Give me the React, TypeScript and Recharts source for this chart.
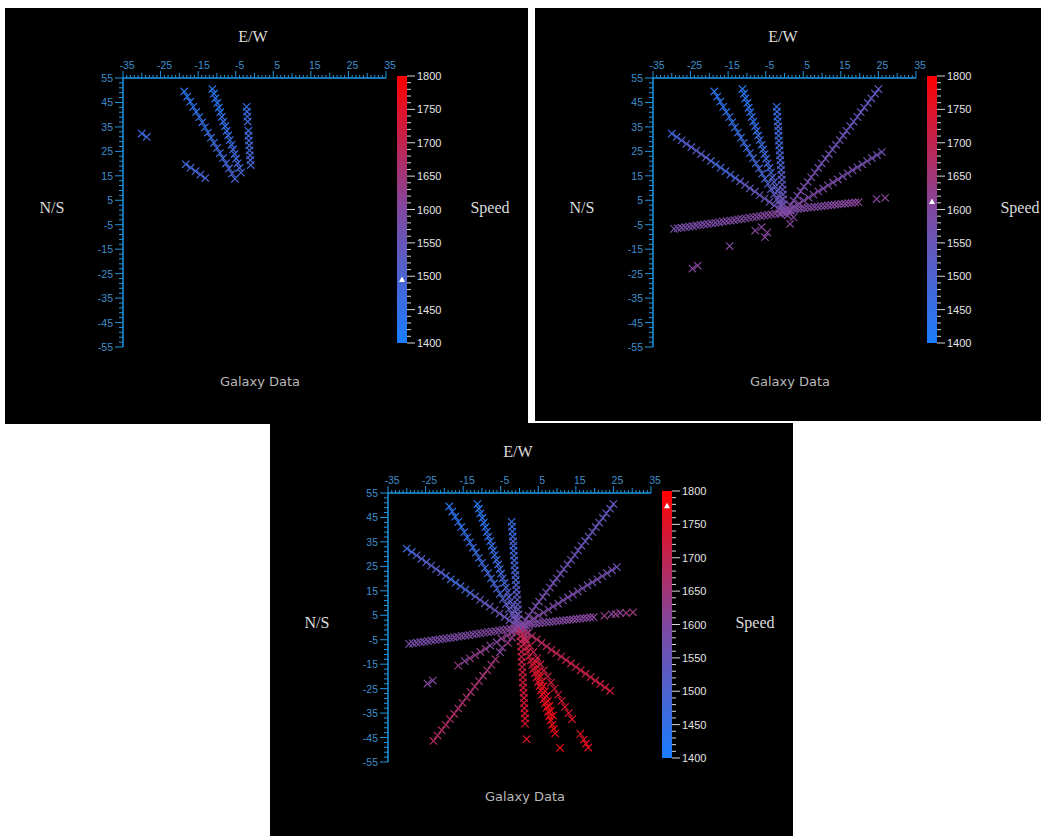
import React from 'react';
import { ScatterChart, Scatter, XAxis, YAxis, BarChart, Bar, ReferenceDot } from 'recharts';

type Galaxy = [number, number, number]; // E/W offset, N/S offset, speed

const ewLabels = [-35, -25, -15, -5, 5, 15, 25, 35];
const nsLabels = [55, 45, 35, 25, 15, 5, -5, -15, -25, -35, -45, -55];
const speedLabels = [1400, 1450, 1500, 1550, 1600, 1650, 1700, 1750, 1800];

// slider setting on the speed bar for each of the three views
const speedLimits = [1495, 1612, 1778];

const streamNW1: Galaxy[] = [
  [-18.7, 49.5, 1428], [-17.9, 47.4, 1431], [-17.1, 45.3, 1436], [-16.3, 43.2, 1440], [-15.5, 41.1, 1443],
  [-14.7, 39.0, 1447], [-13.9, 36.9, 1452], [-13.2, 34.8, 1455], [-12.4, 32.7, 1459], [-11.6, 30.6, 1463],
  [-10.8, 28.5, 1466], [-10.0, 26.4, 1470], [-9.2, 24.3, 1474], [-8.4, 22.2, 1477], [-7.6, 20.1, 1481],
  [-6.8, 18.0, 1485], [-6.0, 15.9, 1488], [-5.2, 13.8, 1492], [-4.4, 11.7, 1512], [-3.6, 9.6, 1522],
  [-2.8, 7.5, 1533], [-2.0, 5.4, 1545], [-1.2, 3.3, 1556], [-0.5, 1.4, 1568],
];

const streamNW2: Galaxy[] = [
  [-11.2, 50.5, 1420], [-10.8, 48.6, 1423], [-10.4, 46.7, 1427], [-9.9, 44.8, 1430], [-9.5, 42.9, 1433],
  [-9.1, 41.0, 1437], [-8.7, 39.1, 1441], [-8.3, 37.2, 1444], [-7.8, 35.3, 1447], [-7.4, 33.4, 1451],
  [-7.0, 31.5, 1455], [-6.6, 29.6, 1458], [-6.1, 27.7, 1462], [-5.7, 25.8, 1466], [-5.3, 23.9, 1470],
  [-4.9, 22.0, 1474], [-4.5, 20.1, 1478], [-4.0, 18.2, 1483], [-3.6, 16.3, 1489], [-3.2, 14.4, 1503],
  [-2.8, 12.5, 1514], [-2.4, 10.6, 1524], [-1.9, 8.7, 1535], [-1.5, 6.8, 1546], [-1.1, 4.9, 1557],
  [-0.7, 3.0, 1566],
];

const streamN: Galaxy[] = [
  [-2.1, 43.2, 1452], [-2.0, 41.2, 1455], [-1.9, 39.2, 1459], [-1.8, 37.2, 1464],
  [-1.7, 35.2, 1502], [-1.6, 33.4, 1470], [-1.6, 31.4, 1473], [-1.5, 29.4, 1476], [-1.4, 27.4, 1479],
  [-1.3, 25.4, 1482], [-1.2, 23.4, 1485], [-1.1, 21.4, 1488], [-1.0, 19.4, 1492],
  [-0.9, 17.4, 1508], [-0.8, 15.4, 1516], [-0.7, 13.4, 1524], [-0.6, 11.4, 1532],
  [-0.5, 9.4, 1540], [-0.4, 7.4, 1548], [-0.3, 5.4, 1556], [-0.2, 3.4, 1564],
];

const streamWNW: Galaxy[] = [
  [-30.0, 32.3, 1470], [-28.7, 30.9, 1478], [-27.4, 29.5, 1512], [-26.1, 28.1, 1515], [-24.8, 26.7, 1518],
  [-23.5, 25.3, 1521], [-22.2, 23.9, 1524], [-20.9, 22.5, 1527], [-19.6, 21.1, 1502], [-18.3, 19.7, 1480],
  [-17.0, 18.3, 1482], [-15.7, 16.9, 1485], [-14.4, 15.5, 1487], [-13.1, 14.1, 1490], [-11.8, 12.7, 1532],
  [-10.5, 11.3, 1536], [-9.2, 9.9, 1540], [-7.9, 8.5, 1545], [-6.6, 7.1, 1549], [-5.3, 5.7, 1554],
  [-4.0, 4.3, 1559], [-2.7, 2.9, 1564], [-1.4, 1.5, 1570],
];

const streamNE: Galaxy[] = [
  [25.0, 50.5, 1536], [24.1, 48.6, 1538], [23.1, 46.7, 1540], [22.2, 44.8, 1542], [21.2, 42.9, 1544],
  [20.3, 41.0, 1546], [19.4, 39.1, 1548], [18.4, 37.2, 1550], [17.5, 35.3, 1552], [16.5, 33.4, 1554],
  [15.6, 31.5, 1556], [14.7, 29.6, 1558], [13.7, 27.7, 1560], [12.8, 25.8, 1562], [11.8, 23.9, 1564],
  [10.9, 22.0, 1566], [9.9, 20.1, 1568], [9.0, 18.2, 1570], [8.1, 16.3, 1572], [7.1, 14.4, 1574],
  [6.2, 12.5, 1576], [5.2, 10.6, 1578], [4.3, 8.7, 1580], [3.4, 6.8, 1582], [2.4, 4.9, 1584],
  [1.5, 3.0, 1586],
];

const streamENE: Galaxy[] = [
  [25.9, 24.7, 1566], [24.6, 23.5, 1568], [23.3, 22.2, 1570], [22.0, 21.0, 1572], [20.7, 19.7, 1574],
  [19.4, 18.5, 1576], [18.1, 17.3, 1578], [16.8, 16.0, 1580], [15.5, 14.8, 1582], [14.2, 13.5, 1584],
  [12.9, 12.3, 1586], [11.6, 11.1, 1588], [10.3, 9.8, 1590], [9.0, 8.6, 1592], [7.7, 7.3, 1594],
  [6.4, 6.1, 1596], [5.1, 4.9, 1598], [3.8, 3.6, 1600], [2.5, 2.4, 1602], [1.2, 1.1, 1604],
];

const streamE: Galaxy[] = [
  [0.8, 0.4, 1590], [1.7, 0.8, 1591], [2.6, 1.2, 1592], [3.5, 1.5, 1593], [4.4, 1.6, 1594],
  [5.3, 1.8, 1595], [6.2, 2.0, 1596], [7.1, 2.1, 1597], [8.0, 2.3, 1598], [8.9, 2.4, 1599],
  [9.8, 2.6, 1600], [10.7, 2.7, 1601], [11.6, 2.9, 1602], [12.5, 3.0, 1603], [13.4, 3.2, 1604],
  [14.3, 3.3, 1605], [15.2, 3.5, 1606], [16.1, 3.6, 1606], [17.0, 3.8, 1607], [17.9, 3.9, 1608],
  [18.8, 4.1, 1609], [19.7, 4.2, 1610], [22.6, 4.8, 1630], [24.5, 5.5, 1608], [25.6, 5.5, 1635],
  [26.8, 6.0, 1611], [28.4, 5.9, 1640], [30.2, 6.2, 1645],
];

const streamW: Galaxy[] = [
  [-29.4, -6.7, 1580], [-28.4, -6.5, 1581], [-27.4, -6.2, 1582], [-26.4, -6.0, 1583], [-25.4, -5.8, 1584],
  [-24.4, -5.6, 1585], [-23.4, -5.3, 1586], [-22.4, -5.1, 1587], [-21.4, -4.9, 1588], [-20.4, -4.7, 1589],
  [-19.4, -4.4, 1590], [-18.4, -4.2, 1591], [-17.4, -4.0, 1592], [-16.4, -3.7, 1593], [-15.4, -3.5, 1594],
  [-14.4, -3.3, 1595], [-13.4, -3.1, 1596], [-12.4, -2.8, 1597], [-11.4, -2.6, 1598], [-10.4, -2.4, 1599],
  [-9.4, -2.1, 1600], [-8.4, -1.9, 1601], [-7.4, -1.7, 1602], [-6.4, -1.5, 1603], [-5.4, -1.2, 1604],
  [-4.4, -1.0, 1605], [-3.4, -0.8, 1606], [-2.4, -0.5, 1607], [-1.4, -0.3, 1608],
];

const core: Galaxy[] = [
  [0.3, -0.5, 1600], [-0.4, 0.6, 1598], [0.8, -1.2, 1605], [1.2, 0.2, 1602], [-1.0, -0.6, 1600],
  [0.5, 1.0, 1596], [1.5, -4.7, 1609], [2.4, -2.0, 1607], [-0.2, -0.1, 1599],
];

const streamSW: Galaxy[] = [
  [-24.5, -22.9, 1604], [-23.1, -21.7, 1606], [-16.3, -15.6, 1632], [-14.6, -13.7, 1602], [-13.2, -12.6, 1630],
  [-11.8, -11.3, 1628], [-10.4, -10.0, 1626], [-9.0, -8.7, 1624], [-7.8, -7.4, 1603], [-6.1, -6.0, 1605],
  [-4.8, -4.6, 1620], [-3.4, -3.3, 1618], [-2.0, -2.0, 1616], [-0.8, -0.8, 1614],
];

const streamSSW: Galaxy[] = [
  [-22.9, -46.4, 1680], [-21.8, -44.2, 1678], [-20.7, -42.0, 1676], [-19.6, -39.8, 1674], [-18.5, -37.5, 1672],
  [-17.4, -35.3, 1670], [-16.3, -33.1, 1668], [-15.2, -30.8, 1666], [-14.1, -28.6, 1664], [-13.0, -26.4, 1662],
  [-11.9, -24.1, 1660], [-10.8, -21.9, 1658], [-9.7, -19.7, 1655], [-8.6, -17.5, 1652], [-7.5, -15.2, 1649],
  [-6.4, -13.0, 1646], [-5.2, -10.1, 1606], [-4.6, -8.2, 1610], [-3.1, -6.3, 1638], [-2.0, -4.1, 1634],
  [-0.9, -1.8, 1630],
];

const streamSE: Galaxy[] = [
  [24.1, -25.9, 1722], [22.8, -24.5, 1720], [21.5, -23.1, 1718], [20.2, -21.7, 1716], [18.9, -20.3, 1714],
  [17.6, -18.9, 1712], [16.3, -17.5, 1710], [15.0, -16.1, 1707], [13.7, -14.7, 1704], [12.4, -13.3, 1701],
  [11.1, -11.9, 1698], [9.8, -10.5, 1695], [8.5, -9.1, 1691], [7.2, -7.7, 1687], [5.9, -6.3, 1683],
  [4.6, -4.9, 1678], [3.3, -3.5, 1672], [2.0, -2.2, 1665],
];

const streamS: Galaxy[] = [
  [0.2, -1.5, 1680], [0.2, -3.6, 1688], [0.3, -5.7, 1695], [0.4, -7.8, 1701], [0.5, -9.9, 1706],
  [0.5, -12.0, 1710], [0.6, -14.1, 1713], [0.7, -16.2, 1716], [0.8, -18.3, 1719], [0.9, -20.4, 1722],
  [0.9, -22.5, 1725], [1.0, -24.6, 1728], [1.1, -26.7, 1731], [1.2, -28.8, 1734], [1.2, -30.9, 1736],
  [1.3, -33.0, 1738], [1.4, -35.1, 1740], [1.5, -37.2, 1742], [1.5, -39.3, 1744], [1.9, -45.6, 1750],
];

const streamSSE1: Galaxy[] = [
  [0.7, -3.0, 1700], [1.1, -4.8, 1704], [1.4, -6.5, 1708], [1.8, -8.3, 1712], [2.2, -10.0, 1716],
  [2.6, -11.8, 1720], [3.0, -13.5, 1724], [3.4, -15.3, 1728], [3.7, -17.0, 1732], [4.1, -18.8, 1736],
  [4.5, -20.5, 1740], [4.9, -22.3, 1744], [5.3, -24.0, 1748], [5.7, -25.8, 1752], [6.0, -27.5, 1755],
  [6.4, -29.3, 1758], [6.8, -31.0, 1761], [7.2, -32.8, 1764], [7.6, -34.5, 1766], [7.9, -36.3, 1768],
  [8.3, -38.0, 1770], [8.7, -39.8, 1772], [9.1, -41.5, 1774], [9.5, -43.3, 1775], [10.8, -49.2, 1772],
];

const streamSSE2: Galaxy[] = [
  [4.4, -14.0, 1740], [4.8, -16.0, 1744], [5.2, -18.0, 1748], [5.6, -20.0, 1752], [6.0, -22.0, 1755],
  [6.4, -24.0, 1758], [6.8, -26.0, 1761], [7.2, -28.0, 1764], [7.6, -30.0, 1767], [8.0, -32.0, 1769],
  [8.4, -34.0, 1771], [8.9, -36.0, 1773],
];

const streamSSE3: Galaxy[] = [
  [0.9, -2.5, 1690], [1.9, -5.0, 1695], [2.8, -7.5, 1700], [3.7, -10.0, 1704], [4.7, -12.5, 1708],
  [5.6, -15.0, 1712], [6.5, -17.5, 1716], [7.5, -20.0, 1720], [8.4, -22.5, 1724], [9.3, -25.0, 1728],
  [10.3, -27.5, 1732], [11.2, -30.0, 1736], [12.1, -32.5, 1740], [13.1, -35.0, 1744], [14.0, -37.5, 1748],
  [16.2, -43.5, 1752], [17.1, -45.8, 1755], [17.7, -47.5, 1757], [18.3, -49.1, 1760],
];

const galaxies = [
  streamNW1, streamNW2, streamN, streamWNW, streamNE, streamENE, streamE, streamW, core,
  streamSW, streamSSW, streamSE, streamS, streamSSE1, streamSSE2, streamSSE3,
].flat().map(([x, y, speed]) => ({ x, y, speed }));

const speedBarData = [{ name: 'speed', range: [1400, 1800] }];

const AXIS = '#2196e0';
const AXIS_TEXT = '#3f8fcc';
const PANEL_TEXT = '#dcdcdc';

const ewTicks = Array.from({ length: 71 }, (_, i) => -35 + i);
const nsTicks = Array.from({ length: 56 }, (_, i) => -55 + i * 2);
const speedTicks = Array.from({ length: 41 }, (_, i) => 1400 + i * 10);

const colorStops: [number, number[]][] = [
  [1400, [26, 125, 255]],
  [1600, [128, 72, 160]],
  [1800, [255, 0, 0]],
];

function speedColor(s: number) {
  const v = Math.min(1800, Math.max(1400, s));
  const [lo, hi] = v <= 1600 ? [colorStops[0], colorStops[1]] : [colorStops[1], colorStops[2]];
  const t = (v - lo[0]) / (hi[0] - lo[0]);
  const c = lo[1].map((a, i) => Math.round(a + (hi[1][i] - a) * t));
  return `rgb(${c[0]},${c[1]},${c[2]})`;
}

const XMark = (props: any) => {
  const { cx, cy, payload } = props;
  const r = 3.7;
  return (
    <path
      d={`M${cx - r},${cy - r}L${cx + r},${cy + r}M${cx - r},${cy + r}L${cx + r},${cy - r}`}
      stroke={speedColor(payload.speed)}
      strokeWidth={1.2}
      fill="none"
    />
  );
};

const EwTick = (props: any) => {
  const { x, y, payload } = props;
  const v = payload.value;
  const labelled = ewLabels.includes(v);
  const len = labelled ? 7 : v % 5 === 0 ? 5 : 3;
  return (
    <g>
      <line x1={x} y1={y} x2={x} y2={y - len} stroke={AXIS} strokeWidth={1} />
      {labelled && (
        <text x={x + 4} y={y - 13} textAnchor="middle" dominantBaseline="central" fill={AXIS_TEXT}
          fontSize={10.5} fontFamily="Liberation Sans, Arial, sans-serif">{v}</text>
      )}
    </g>
  );
};

const NsTick = (props: any) => {
  const { x, y, payload } = props;
  const v = payload.value;
  const labelled = nsLabels.includes(v);
  return (
    <g>
      <line x1={x} y1={y} x2={x - (labelled ? 8 : 4)} y2={y} stroke={AXIS} strokeWidth={1} />
      {labelled && (
        <text x={x - 10} y={y} textAnchor="end" dominantBaseline="central" fill={AXIS_TEXT}
          fontSize={10.5} fontFamily="Liberation Sans, Arial, sans-serif">{v}</text>
      )}
    </g>
  );
};

const SpeedTick = (props: any) => {
  const { x, y, payload } = props;
  const v = payload.value;
  const labelled = speedLabels.includes(v);
  return (
    <g>
      <line x1={x} y1={y} x2={x + (labelled ? 8 : 4)} y2={y} stroke="#d8d8d8" strokeWidth={1} />
      {labelled && (
        <text x={x + 10} y={y} dominantBaseline="central" fill="#e4e4e4"
          fontSize={11} fontFamily="Liberation Sans, Arial, sans-serif">{v}</text>
      )}
    </g>
  );
};

const SliderMark = (props: any) => {
  const { cx, cy } = props;
  return <polygon points={`${cx},${cy - 3} ${cx - 3},${cy + 2.5} ${cx + 3},${cy + 2.5}`} fill="#ffffff" />;
};

const label = (text: string, left: number, top: number, style: React.CSSProperties) => (
  <div style={{ position: 'absolute', left, top, transform: 'translate(-50%, -50%)', whiteSpace: 'nowrap', ...style }}>
    {text}
  </div>
);

function GalaxyView({ limit }: { limit: number }) {
  const shown = galaxies.filter((g) => g.speed <= limit);
  const serif = { fontFamily: 'Liberation Serif, Times New Roman, serif', fontSize: 16, color: PANEL_TEXT };
  return (
    <div style={{ position: 'relative', width: 523, height: 416 }}>
      <ScatterChart width={523} height={416} margin={{ top: 50, right: 142, bottom: 77, left: 88 }}>
        <XAxis
          type="number" dataKey="x" orientation="top" domain={[-35, 35]} allowDataOverflow
          ticks={ewTicks} interval={0} height={20} tickSize={0} tickMargin={0} tickLine={false}
          axisLine={{ stroke: AXIS, strokeWidth: 1.5 }} tick={EwTick}
        />
        <YAxis
          type="number" dataKey="y" domain={[-55, 55]} allowDataOverflow
          ticks={nsTicks} interval={0} width={30} tickSize={0} tickMargin={0} tickLine={false}
          axisLine={{ stroke: AXIS, strokeWidth: 1.5 }} tick={NsTick}
        />
        <Scatter data={shown} shape={XMark} isAnimationActive={false} />
      </ScatterChart>
      <div style={{ position: 'absolute', left: 392, top: 0 }}>
        <BarChart width={70} height={340} data={speedBarData} margin={{ top: 68, right: 0, bottom: 5, left: 0 }}
          barCategoryGap={0}>
          <XAxis dataKey="name" hide />
          <YAxis
            orientation="right" type="number" domain={[1400, 1800]} ticks={speedTicks} interval={0}
            width={60} tickSize={0} tickMargin={0} tickLine={false} axisLine={false} tick={SpeedTick}
          />
          <Bar dataKey="range" fill="url(#speedGradient)" isAnimationActive={false} />
          <ReferenceDot x="speed" y={limit} r={3} shape={SliderMark} ifOverflow="visible" />
        </BarChart>
      </div>
      {label('E/W', 248, 29, serif)}
      {label('N/S', 47, 200, serif)}
      {label('Speed', 485, 200, serif)}
      {label('Galaxy Data', 255, 373, { fontFamily: 'DejaVu Sans, sans-serif', fontSize: 13, color: '#b8b8b8' })}
    </div>
  );
}

const views = [
  { left: 5, top: 8, width: 523, height: 416 },
  { left: 535, top: 8, width: 506, height: 413 },
  { left: 270, top: 423, width: 523, height: 413 },
];

export default function App() {
  return (
    <div style={{ position: 'absolute', left: 0, top: 0, width: 1045, height: 836, background: '#fff' }}>
      <svg width={0} height={0} style={{ position: 'absolute' }}>
        <defs>
          <linearGradient id="speedGradient" x1="0" y1="1" x2="0" y2="0">
            <stop offset="0" stopColor="rgb(26,125,255)" />
            <stop offset="0.5" stopColor="rgb(128,72,160)" />
            <stop offset="1" stopColor="rgb(255,0,0)" />
          </linearGradient>
        </defs>
      </svg>
      {views.map((v, i) => (
        <div key={i} style={{ position: 'absolute', left: v.left, top: v.top, width: v.width, height: v.height,
          background: '#000', overflow: 'hidden' }}>
          <GalaxyView limit={speedLimits[i]} />
        </div>
      ))}
    </div>
  );
}
